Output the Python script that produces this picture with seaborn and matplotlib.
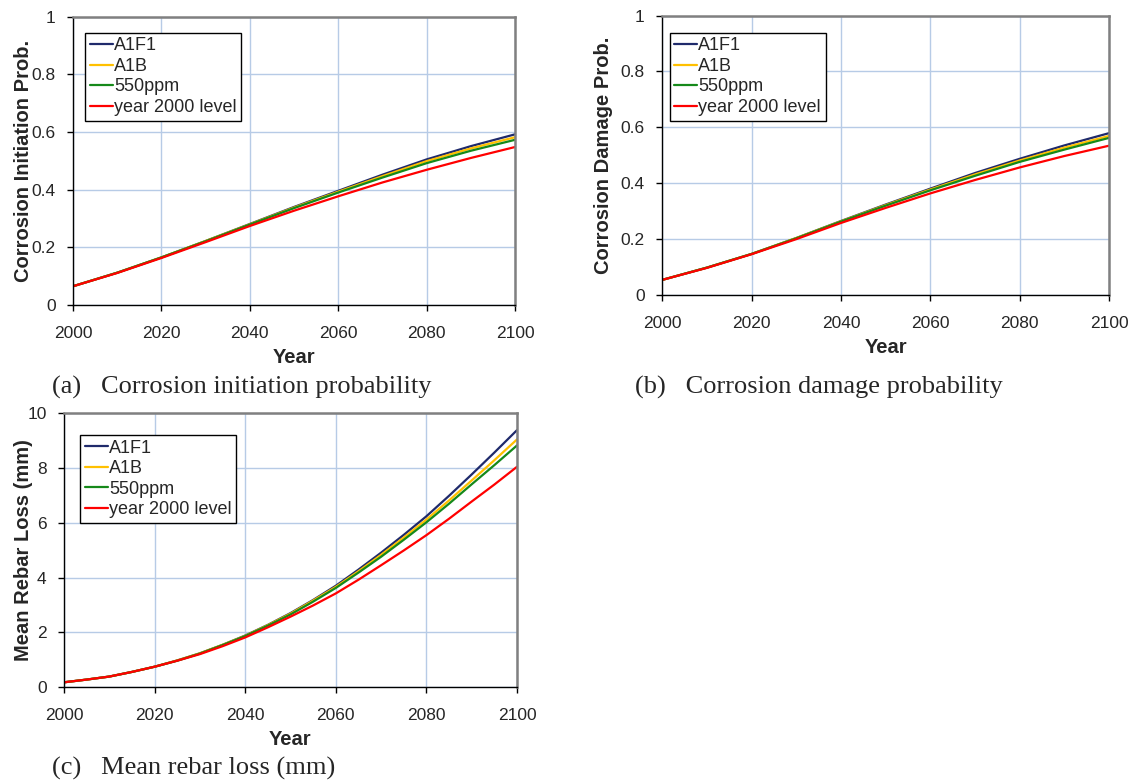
import numpy as np
import pandas as pd
import matplotlib
matplotlib.use("Agg")
import matplotlib.pyplot as plt
import seaborn as sns

scenarios = ["A1F1", "A1B", "550ppm", "year 2000 level"]

# panels (a) and (b): 10-year readings
years10 = [2000, 2010, 2020, 2030, 2040, 2050, 2060, 2070, 2080, 2090, 2100]

init_A1F1 = [0.065, 0.112, 0.165, 0.222, 0.281, 0.340, 0.396, 0.452, 0.505, 0.551, 0.592]
init_A1B = [0.065, 0.112, 0.165, 0.222, 0.280, 0.338, 0.393, 0.447, 0.499, 0.543, 0.582]
init_550 = [0.065, 0.112, 0.165, 0.221, 0.279, 0.336, 0.390, 0.442, 0.492, 0.535, 0.573]
init_2000 = [0.065, 0.111, 0.163, 0.218, 0.274, 0.327, 0.377, 0.425, 0.469, 0.510, 0.548]

dmg_A1F1 = [0.053, 0.097, 0.146, 0.203, 0.264, 0.323, 0.380, 0.436, 0.487, 0.535, 0.579]
dmg_A1B = [0.053, 0.097, 0.146, 0.203, 0.263, 0.321, 0.377, 0.431, 0.481, 0.527, 0.569]
dmg_550 = [0.053, 0.097, 0.146, 0.202, 0.262, 0.319, 0.374, 0.426, 0.476, 0.520, 0.562]
dmg_2000 = [0.053, 0.096, 0.145, 0.199, 0.257, 0.311, 0.363, 0.411, 0.456, 0.497, 0.534]

# panel (c): 5-year readings
years5 = [2000, 2005, 2010, 2015, 2020, 2025, 2030, 2035, 2040, 2045, 2050,
          2055, 2060, 2065, 2070, 2075, 2080, 2085, 2090, 2095, 2100]

loss_A1F1 = [0.17, 0.27, 0.38, 0.55, 0.74, 0.97, 1.23, 1.54, 1.88, 2.27, 2.70,
             3.18, 3.70, 4.29, 4.91, 5.56, 6.24, 6.99, 7.77, 8.57, 9.39]
loss_A1B = [0.17, 0.27, 0.38, 0.55, 0.74, 0.97, 1.23, 1.54, 1.87, 2.26, 2.68,
            3.16, 3.66, 4.23, 4.83, 5.46, 6.12, 6.82, 7.55, 8.29, 9.05]
loss_550 = [0.17, 0.27, 0.38, 0.55, 0.74, 0.96, 1.22, 1.53, 1.86, 2.24, 2.65,
            3.12, 3.62, 4.18, 4.76, 5.38, 6.02, 6.70, 7.41, 8.11, 8.83]
loss_2000 = [0.17, 0.27, 0.38, 0.55, 0.74, 0.96, 1.20, 1.49, 1.81, 2.18, 2.57,
             2.98, 3.42, 3.92, 4.45, 4.99, 5.55, 6.15, 6.78, 7.40, 8.05]

colors = ["#1F2A6B", "#FFC000", "#15891A", "#FF0000"]
year_ticks = [2000, 2020, 2040, 2060, 2080, 2100]


def long_df(years, series):
    rows = []
    for name, vals in zip(scenarios, series):
        for y, v in zip(years, vals):
            rows.append({"Year": y, "value": v, "Scenario": name})
    return pd.DataFrame(rows)


sns.set_style("white")
plt.rcParams["font.family"] = ["Liberation Sans", "DejaVu Sans"]

fig = plt.figure(figsize=(11.32, 7.81), dpi=100)

panels = [
    dict(rect=[0.0645, 0.6095, 0.3905, 0.3691], years=years10,
         data=[init_A1F1, init_A1B, init_550, init_2000],
         ylabel="Corrosion Initiation Prob.", ylim=(0, 1), yticks=[0, 0.2, 0.4, 0.6, 0.8, 1],
         yticklabels=["0", "0.2", "0.4", "0.6", "0.8", "1"], leg=(0.0276, 0.9445),
         ylab_x=-0.091),
    dict(rect=[0.5850, 0.6227, 0.3947, 0.3572], years=years10,
         data=[dmg_A1F1, dmg_A1B, dmg_550, dmg_2000],
         ylabel="Corrosion Damage Prob.", ylim=(0, 1), yticks=[0, 0.2, 0.4, 0.6, 0.8, 1],
         yticklabels=["0", "0.2", "0.4", "0.6", "0.8", "1"], leg=(0.0163, 0.939),
         ylab_x=-0.110),
    dict(rect=[0.0565, 0.1204, 0.4002, 0.3502], years=years5,
         data=[loss_A1F1, loss_A1B, loss_550, loss_2000],
         ylabel="Mean Rebar Loss (mm)", ylim=(0, 10), yticks=[0, 2, 4, 6, 8, 10],
         yticklabels=["0", "2", "4", "6", "8", "10"], leg=(0.0364, 0.921),
         ylab_x=-0.069),
]

for p in panels:
    ax = fig.add_axes(p["rect"])
    df = long_df(p["years"], p["data"])
    sns.lineplot(data=df, x="Year", y="value", hue="Scenario", hue_order=scenarios,
                 palette=colors, linewidth=1.6, ax=ax, legend=True)
    ax.set_xlim(2000, 2100)
    ax.set_ylim(*p["ylim"])
    ax.set_xticks(year_ticks)
    ax.set_yticks(p["yticks"])
    ax.set_yticklabels(p["yticklabels"])
    ax.grid(True, color="#B7CBE6", linewidth=1.0)
    ax.set_axisbelow(True)
    for s in ["left", "bottom"]:
        ax.spines[s].set_color("black")
        ax.spines[s].set_linewidth(1.0)
    for s in ["top", "right"]:
        ax.spines[s].set_color("#808080")
        ax.spines[s].set_linewidth(1.8)
    ax.tick_params(axis="both", which="major", direction="out", length=4.5, width=1,
                   color="black", labelsize=12.5, left=True, bottom=True)
    ax.tick_params(axis="x", pad=10.5)
    ax.tick_params(axis="y", pad=8)
    ax.set_xlabel("Year", fontsize=14.5, fontweight="bold", labelpad=5.5)
    ax.set_ylabel(p["ylabel"], fontsize=14.5, fontweight="bold")
    ax.yaxis.set_label_coords(p["ylab_x"], 0.5)
    leg = ax.legend(loc="upper left", bbox_to_anchor=p["leg"], borderaxespad=0,
                    fontsize=13, frameon=True, fancybox=False, framealpha=1,
                    edgecolor="black", handlelength=1.3, handletextpad=0.05,
                    labelspacing=0.2, borderpad=0.25)
    leg.get_frame().set_linewidth(1.0)
    for line in leg.get_lines():
        line.set_linewidth(1.6)

cap_font = dict(family=["Liberation Serif", "DejaVu Serif"], fontsize=19, va="center", ha="left")
fig.text(52.4 / 1132, 1 - 387 / 781, "(a)   Corrosion initiation probability", **cap_font)
fig.text(634.8 / 1132, 1 - 387 / 781, "(b)   Corrosion damage probability", **cap_font)
fig.text(52.4 / 1132, 1 - 768 / 781, "(c)   Mean rebar loss (mm)", **cap_font)

fig.savefig("out.png", dpi=100)
